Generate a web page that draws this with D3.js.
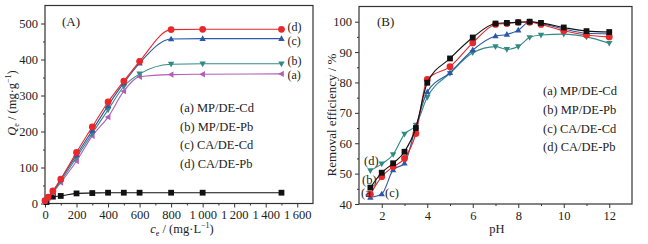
<!DOCTYPE html>
<html>
<head>
<meta charset="utf-8">
<script src="https://cdn.jsdelivr.net/npm/d3@7"></script>
<style>
  body { margin: 0; background: #fff; }
  svg { font-family: "Liberation Serif", "DejaVu Serif", serif; }
</style>
</head>
<body>
<svg id="chart" width="648" height="244"></svg>
<script>
// ---- panel A data: adsorption isotherms ----
const ceBlank = [10, 50, 100, 200, 300, 400, 500, 600, 800, 1000, 1500];
const qBlank = [4, 19, 21, 28, 29, 30, 30, 30, 30, 30, 30];
const ce = [0, 20, 50, 100, 200, 300, 400, 500, 600, 800, 1000, 1500];
const qA = [7, 15, 30, 58, 118, 188, 240, 312, 352, 358, 359, 360];
const qB = [8, 16, 32, 62, 128, 195, 260, 325, 360, 387, 388, 388];
const qC = [8, 17, 33, 67, 135, 203, 272, 335, 390, 457, 458, 458];
const qD = [8, 18, 35, 68, 142, 213, 282, 340, 395, 483, 484, 484];
const xTicksA = [0, 200, 400, 600, 800, 1000, 1200, 1400, 1600];
const yTicksA = [0, 100, 200, 300, 400, 500];

// ---- panel B data: removal efficiency vs pH ----
const pH = [1.5, 2, 2.5, 3, 3.5, 4, 5, 6, 7, 7.5, 8, 8.5, 9, 10, 11, 12];
const reBlack = [45.4, 50.3, 53.4, 57.2, 65, 79.9, 87.9, 94.8, 99.4, 99.6, 99.8, 100, 99.6, 98.1, 96.9, 96.6];
const reRed = [43.2, 49, 52.3, 55, 63.2, 81, 85.2, 93, 99.1, 99.4, 99.8, 99.8, 99.1, 97, 95.6, 95];
const reBlue = [42.2, 43.3, 51.2, 53.4, 65.5, 76.9, 83.2, 90.7, 95.3, 95.8, 97.2, 100, 99.4, 97.6, 96.2, 96];
const reTeal = [51, 53.2, 56.3, 63, 66, 75.1, 83, 89.8, 91.8, 90.9, 91.8, 94.8, 95.6, 95.9, 95, 92.9];
const xTicksB = [2, 4, 6, 8, 10, 12];
const yTicksB = [40, 50, 60, 70, 80, 90, 100];

const legendNames = ["(a) MP/DE-Cd", "(b) MP/DE-Pb", "(c) CA/DE-Cd", "(d) CA/DE-Pb"];
const endLabelsA = ["(d)", "(c)", "(b)", "(a)"];

const col = { black: "#111", red: "#e8282a", blue: "#2b58a8", teal: "#338a84", purple: "#b45cb8" };

const svg = d3.select("#chart");

const fmt = (d) => d >= 1000 ? Math.floor(d / 1000) + "\u2009" + String(d % 1000).padStart(3, "0") : String(d);

// marker shapes
const symbolPath = (type, s) => {
  if (type === "square") return `M${-s},${-s}H${s}V${s}H${-s}Z`;
  if (type === "up") return `M0,${-s * 1.15}L${s * 1.1},${s * 0.8}L${-s * 1.1},${s * 0.8}Z`;
  if (type === "down") return `M0,${s * 1.15}L${s * 1.1},${-s * 0.8}L${-s * 1.1},${-s * 0.8}Z`;
  if (type === "left") return `M${-s * 1.15},0L${s * 0.8},${-s * 1.1}L${s * 0.8},${s * 1.1}Z`;
  return null;
};

function drawFrame(g, x, y, xTicks, yTicks, xMinor, yMinor, tickFmt) {
  const [x0, x1] = x.range();
  const [y0, y1] = y.range();
  g.append("rect")
    .attr("x", x0).attr("y", y1)
    .attr("width", x1 - x0).attr("height", y0 - y1)
    .attr("fill", "none").attr("stroke", "#333").attr("stroke-width", 1.2);

  const xAxis = d3.axisBottom(x).tickValues(xTicks).tickSize(4).tickPadding(3).tickFormat(tickFmt);
  g.append("g").attr("transform", `translate(0,${y0})`).call(xAxis);
  const xm = d3.axisBottom(x).tickValues(xMinor).tickSize(2).tickFormat("");
  g.append("g").attr("transform", `translate(0,${y0})`).call(xm);

  const yAxis = d3.axisLeft(y).tickValues(yTicks).tickSize(4).tickPadding(3).tickFormat(tickFmt);
  g.append("g").attr("transform", `translate(${x0},0)`).call(yAxis);
  const ym = d3.axisLeft(y).tickValues(yMinor).tickSize(2).tickFormat("");
  g.append("g").attr("transform", `translate(${x0},0)`).call(ym);

  g.selectAll(".domain").remove();
  g.selectAll(".tick line").attr("stroke", "#333").attr("stroke-width", 1);
  g.selectAll(".tick text")
    .attr("font-family", "Liberation Serif, serif")
    .attr("font-size", 12.5)
    .attr("fill", "#222");
}

function drawSeries(g, x, y, xs, ys, color, shape) {
  const pts = xs.map((v, i) => [x(v), y(ys[i])]);
  g.append("path")
    .attr("d", d3.line().curve(d3.curveMonotoneX)(pts))
    .attr("fill", "none").attr("stroke", color).attr("stroke-width", 1.1);
  g.selectAll(null).data(pts).enter()
    .append("path")
    .attr("transform", (d) => `translate(${d[0]},${d[1]})`)
    .attr("d", (d) => shape === "circle" ? d3.symbol(d3.symbolCircle, 36)() : symbolPath(shape, 2.9))
    .attr("fill", color);
}

// ===== Panel A =====
const gA = svg.append("g");
const xA = d3.scaleLinear().domain([0, 1700]).range([45, 313]);
const yA = d3.scaleLinear().domain([0, 550]).range([203.5, 5.5]);
drawFrame(gA, xA, yA, xTicksA, yTicksA,
  d3.range(100, 1700, 200), d3.range(50, 550, 100), fmt);

drawSeries(gA, xA, yA, ceBlank, qBlank, col.black, "square");
drawSeries(gA, xA, yA, ce, qA, col.purple, "left");
drawSeries(gA, xA, yA, ce, qB, col.teal, "down");
drawSeries(gA, xA, yA, ce, qC, col.blue, "up");
drawSeries(gA, xA, yA, ce, qD, col.red, "circle");

// end-of-curve labels; (d) sits a little above its line, as in the figure
const endY = [31, 44.5, 65, 79];
gA.selectAll(null).data(endLabelsA).enter().append("text")
  .attr("x", xA(1500) + 6)
  .attr("y", (d, i) => endY[i])
  .attr("font-size", 12).attr("fill", "#222")
  .text((d) => d);

gA.append("text").attr("x", 62).attr("y", 26).attr("font-size", 13).attr("fill", "#222").text("(A)");

gA.selectAll(null).data(legendNames).enter().append("text")
  .attr("x", 180).attr("y", (d, i) => 112 + i * 18.7)
  .attr("font-size", 12.5).attr("fill", "#222")
  .text((d) => d);

// axis titles A
const tA = gA.append("text").attr("x", 182).attr("y", 233).attr("text-anchor", "middle")
  .attr("font-size", 12.5).attr("fill", "#222");
tA.append("tspan").attr("font-style", "italic").text("c");
tA.append("tspan").attr("font-size", 8).attr("dy", 3).text("e");
tA.append("tspan").attr("dy", -3).text(" / (mg\u00b7L");
tA.append("tspan").attr("font-size", 8).attr("dy", -5).text("\u22121");
tA.append("tspan").attr("dy", 5).text(")");

const tAy = gA.append("text").attr("transform", "translate(16,103) rotate(-90)")
  .attr("text-anchor", "middle").attr("font-size", 12.5).attr("fill", "#222");
tAy.append("tspan").attr("font-style", "italic").text("Q");
tAy.append("tspan").attr("font-size", 8).attr("dy", 3).text("e");
tAy.append("tspan").attr("dy", -3).text(" / (mg\u00b7g");
tAy.append("tspan").attr("font-size", 8).attr("dy", -5).text("\u22121");
tAy.append("tspan").attr("dy", 5).text(")");

// ===== Panel B =====
const gB = svg.append("g");
const xB = d3.scaleLinear().domain([1, 13]).range([359, 632]);
const yB = d3.scaleLinear().domain([40, 105]).range([204, 6.5]);
drawFrame(gB, xB, yB, xTicksB, yTicksB,
  d3.range(3, 13, 2), d3.range(45, 105, 10), (d) => String(d));

drawSeries(gB, xB, yB, pH, reTeal, col.teal, "down");
drawSeries(gB, xB, yB, pH, reBlue, col.blue, "up");
drawSeries(gB, xB, yB, pH, reRed, col.red, "circle");
drawSeries(gB, xB, yB, pH, reBlack, col.black, "square");

gB.append("text").attr("x", 377).attr("y", 26).attr("font-size", 13).attr("fill", "#222").text("(B)");

const sideB = [["(d)", 364, 165], ["(b)", 362, 184], ["(a", 361, 197], ["(c)", 385, 197]];
gB.selectAll(null).data(sideB).enter().append("text")
  .attr("x", (d) => d[1]).attr("y", (d) => d[2])
  .attr("font-size", 12.5).attr("fill", "#222")
  .text((d) => d[0]);

gB.selectAll(null).data(legendNames).enter().append("text")
  .attr("x", 543).attr("y", (d, i) => 95 + i * 18.8)
  .attr("font-size", 12.5).attr("fill", "#222")
  .text((d) => d);

gB.append("text").attr("x", 497).attr("y", 233).attr("text-anchor", "middle")
  .attr("font-size", 12.5).attr("fill", "#222").text("pH");
gB.append("text").attr("transform", "translate(336,115) rotate(-90)")
  .attr("text-anchor", "middle").attr("font-size", 13).attr("fill", "#222")
  .text("Removal efficiency / %");
</script>
</body>
</html>
